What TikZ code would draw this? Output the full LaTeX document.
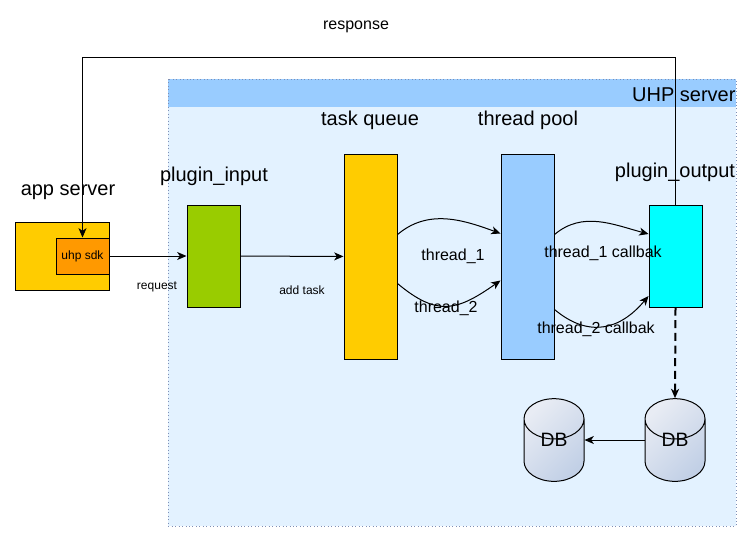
\documentclass[tikz,border=0pt]{standalone}
\usepackage{fontspec}
\setmainfont{Liberation Sans}
\usepackage{tikz}
\usetikzlibrary{arrows.meta}
\usetikzlibrary{calc}
\usetikzlibrary{shapes.geometric}
\definecolor{appyellow}{HTML}{FFCC00}
\definecolor{sdkorange}{HTML}{FF9900}
\definecolor{inputgreen}{HTML}{99CC00}
\definecolor{poolblue}{HTML}{99CCFF}
\definecolor{outputcyan}{HTML}{00FFFF}
\definecolor{serverbody}{HTML}{E3F2FF}
\definecolor{serverline}{HTML}{7F8FB5}
\definecolor{dbtop}{HTML}{E8ECF4}
\definecolor{dbbottom}{HTML}{C2D0E6}

\begin{document}
\begin{tikzpicture}
    [x=0.75pt, y=-0.75pt, line width=0.75pt,
    box/.style={rectangle, draw, inner sep=0pt, minimum width=39.75pt},
    title/.style={font=\fontsize{15}{18}\selectfont},
    small/.style={font=\fontsize{9}{11}\selectfont},
    middle/.style={font=\fontsize{12}{14}\selectfont},
    dblabel/.style={font=\fontsize{14.5}{17}\selectfont},
    db/.style={cylinder, shape border rotate=90, draw, aspect=1.5,
      minimum width=45pt, minimum height=62pt, inner sep=0pt,
      anchor=shape center, dblabel,
      top color=dbtop, bottom color=dbbottom, shading angle=45},
    flow/.style={-{Stealth[length=7pt, width=6pt, inset=2pt]}}]
  \useasboundingbox (0,0) rectangle (755,543);
  \fill [serverbody] (168,79) rectangle (736,526);
  \fill [poolblue] (168,79) rectangle (736,107);
  \draw [serverline, line width=0.6pt, dotted] (168,79) rectangle (736,526);
  \node [title, anchor=east, inner sep=0pt] (uhp) at (736,95) {UHP server};

  \node [box, fill=appyellow, minimum width=70.5pt, minimum height=51pt] (app) at (62,256) {};
  \node [box, fill=sdkorange, minimum height=27pt, small] (sdk) at (82.5,256) {uhp sdk};
  \node [box, fill=inputgreen, minimum height=76.5pt] (input) at (213.5,256) {};
  \node [box, fill=appyellow, minimum height=153.75pt] (queue) at (370.5,256.5) {};
  \node [box, fill=poolblue, minimum height=153.75pt] (pool) at (527.5,256.5) {};
  \node [box, fill=outputcyan, minimum height=76.5pt] (output) at (675.5,256) {};
  \node [db] (dbout) at (675,440) {\phantom{DB}};
  \node [dblabel] at (dbout.shape center) {DB};
  \node [db] (dbcopy) at (554,440) {\phantom{DB}};
  \node [dblabel] at (dbcopy.shape center) {DB};

  \node [title] at (68,192) {app server};
  \node [title] at (214,176) {plugin\_input};
  \node [title] at (370,120) {task queue};
  \node [title] at (528,120) {thread pool};
  \node [title] at (675,172) {plugin\_output};

  \coordinate (respcorner) at (82.5,57);
  \draw [flow] (output.north) |- (respcorner) -- (sdk.north);
  \node [middle] (resp) at (356,27) {response};

  \draw [flow] (sdk) -- (input);
  \node [small] at (157,287) {request};
  \draw [flow] (input) -- (queue);
  \node [small] at (302,290) {add task};

  \draw [flow] ($(queue.east)+(0,-22)$) to [out=40, in=160] ($(pool.west)+(0,-23)$);
  \draw [flow] ($(queue.east)+(0,27)$) to [out=-40, in=-145, looseness=1.3] ($(pool.west)+(0,24)$);
  \node [middle] at (453,256) {thread\_1};
  \node [middle] at (446,308) {thread\_2};

  \draw [flow] ($(pool.east)+(0,-22)$) to [out=40, in=165] ($(output.west)+(0,-22)$);
  \draw [flow] ($(pool.east)+(0,53)$) to [out=-40, in=-130, looseness=1.2] ($(output.west)+(0,40)$);
  \node [middle] at (603,253) {thread\_1 callbak};
  \node [middle] at (596,329) {thread\_2 callbak};

  \draw [flow, line width=1.5pt, dash pattern=on 6pt off 3.5pt] (output.south) -- (dbout.north);
  \draw [flow] (dbout.west |- dbout.shape center) -- (dbcopy.east |- dbcopy.shape center);
\end{tikzpicture}
\end{document}
